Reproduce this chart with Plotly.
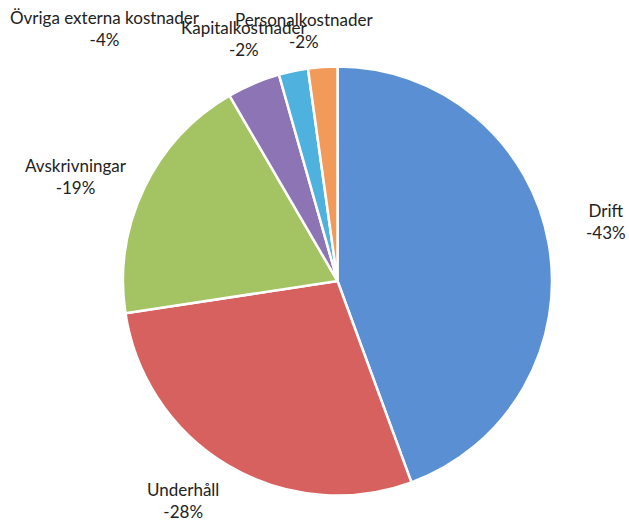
import plotly.graph_objects as go

categories = ["Drift", "Underhåll", "Avskrivningar", "Övriga externa kostnader",
              "Kapitalkostnader", "Personalkostnader"]
values = [44.4, 28.2, 19.0, 4.0, 2.2, 2.2]
pct_text = ["-43%", "-28%", "-19%", "-4%", "-2%", "-2%"]
colors = ["#5b8fd3", "#d6615f", "#a4c362", "#8d74b4", "#4fb1de", "#f19a5a"]

# label anchor positions in pixels (layout only)
W, H = 629, 521
label_pos = [(606, 221), (183, 500), (76, 176), (105, 28), (244, 39), (304, 30)]

fig = go.Figure(go.Pie(
    labels=categories,
    values=values,
    sort=False,
    direction="clockwise",
    rotation=0,
    textinfo="none",
    hoverinfo="label+percent",
    marker=dict(colors=colors, line=dict(color="white", width=2.5)),
    domain=dict(x=[123 / W, 552 / W], y=[1 - 496 / H, 1 - 66 / H]),
    showlegend=False,
))

annotations = []
for cat, pt, (px, py) in zip(categories, pct_text, label_pos):
    annotations.append(dict(
        x=px / W, y=1 - py / H, xref="paper", yref="paper",
        text=f"{cat}<br>{pt}", showarrow=False,
        font=dict(family="Lato", size=17, color="#222222"),
        xanchor="center", yanchor="middle", align="center",
    ))

fig.update_layout(
    width=W, height=H,
    margin=dict(l=0, r=0, t=0, b=0),
    paper_bgcolor="white", plot_bgcolor="white",
    annotations=annotations,
)

fig.write_html("out.html",
               config={"displayModeBar": False},
               post_script="document.body.style.margin='0px';document.body.style.overflow='hidden';")
